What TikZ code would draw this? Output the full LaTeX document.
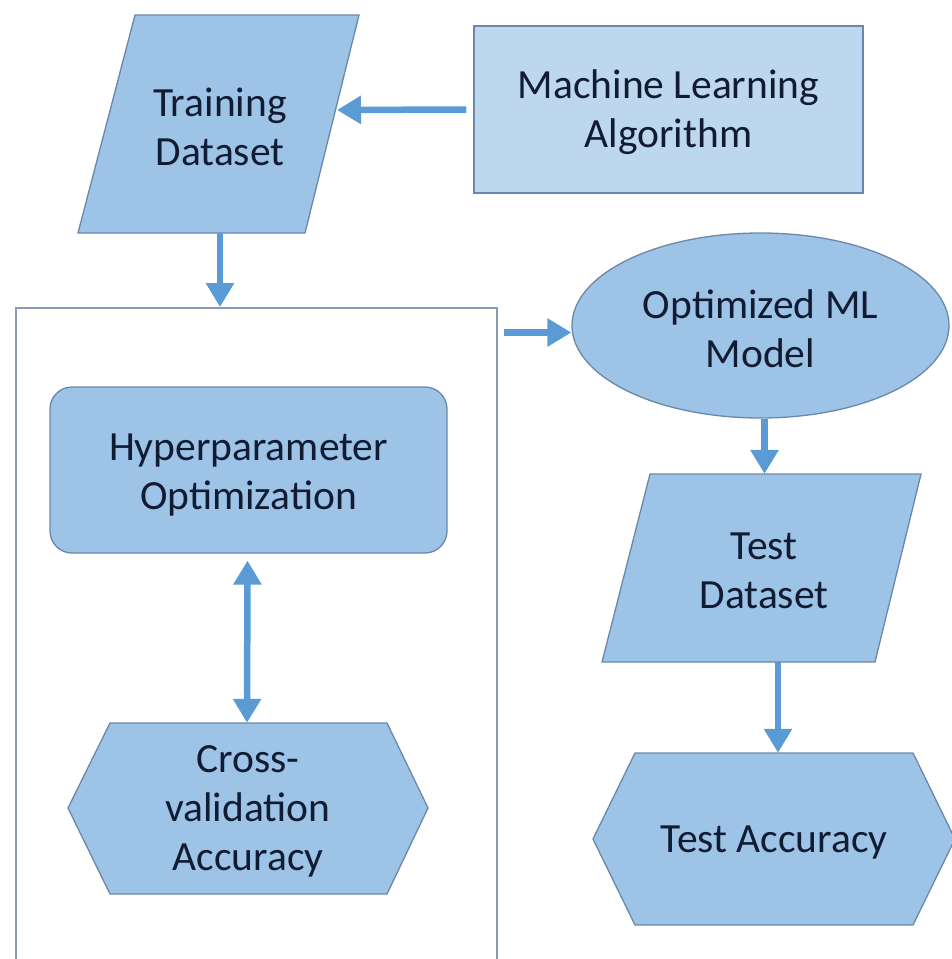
\documentclass[tikz,border=0pt]{standalone}
\usepackage{fontspec}
\setmainfont{Carlito}
\usetikzlibrary{arrows.meta,calc,shapes.geometric}
\definecolor{arrowblue}{HTML}{5B9BD5}
\definecolor{shapefill}{HTML}{9DC3E6}
\definecolor{lightfill}{HTML}{BDD7EE}
\definecolor{edgeblue}{HTML}{6A88AA}
\definecolor{framegrey}{HTML}{8A9CB3}
\definecolor{textnavy}{HTML}{111C33}
\tikzset{
  shp/.style={fill=shapefill, draw=edgeblue, line width=1.3pt},
  box/.style={inner sep=0pt},
  lbl/.style={text=textnavy, font=\fontsize{41.5}{49}\selectfont, align=center, inner sep=0pt},
  conn/.style={draw=arrowblue, line width=6.5pt, -{Triangle[length=24pt,width=27pt]}},
  biconn/.style={draw=arrowblue, line width=6.5pt, {Triangle[length=24pt,width=27pt]}-{Triangle[length=24pt,width=27pt]}},
}
\begin{document}
\begin{tikzpicture}[x=1pt,y=-1pt]
\useasboundingbox (0,0) rectangle (951,959);
% outer frame
\node[box, draw=framegrey, line width=2pt, minimum width=481pt, minimum height=667pt] (fr) at (256.5,641.5) {};
% drawn outlines
\path[shp] (135,15) -- (359,15) -- (305,233) -- (78,233) -- cycle;
\path[shp] (650,474) -- (921,474) -- (875,662) -- (602,662) -- cycle;
\path[shp] (68,808) -- (110,723) -- (387,723) -- (428,808) -- (387,894) -- (110,894) -- cycle;
\path[shp] (593,839) -- (635,753) -- (913,753) -- (955,839) -- (913,925) -- (635,925) -- cycle;
% shape nodes
\node[box, minimum width=224pt, minimum height=218pt] (td) at (219,124) {};
\node[box, fill=lightfill, draw=edgeblue, line width=1.3pt, minimum width=389pt, minimum height=167pt] (ml) at (668.5,109.5) {};
\node[box, shp, ellipse, minimum width=377pt, minimum height=185pt] (om) at (760.5,325.5) {};
\node[box, shp, rounded corners=22pt, minimum width=397pt, minimum height=166pt] (hp) at (248.5,470) {};
\node[box, minimum width=360pt, minimum height=171pt] (cv) at (248,808.5) {};
\node[box, minimum width=272pt, minimum height=188pt] (tds) at (762,568) {};
\node[box, minimum width=362pt, minimum height=172pt] (ta) at (774,839) {};
% labels
\node[lbl] (tdL) at ($(td.center)+(1,3)$) {Training\\Dataset};
\node[lbl] (mlL) at ($(ml.center)+(0,3)$) {Machine Learning\\Algorithm};
\node[lbl] (omL) at ($(om.center)+(0,3)$) {Optimized ML\\Model};
\node[lbl] (hpL) at ($(hp.center)+(0,5)$) {Hyperparameter\\Optimization};
\node[lbl] (cvL) at ($(cv.center)+(0,3)$) {Cross-\\validation\\Accuracy};
\node[lbl] (tdsL) at ($(tds.center)+(2,3)$) {Test\\Dataset};
\node[lbl] (taL) at ($(ta.center)+(0,4)$) {Test Accuracy};
\coordinate (tdR) at (337,110);
% connectors
\draw[conn] ($(ml.west)+(-7,0)$) -- (tdR);
\draw[conn] ($(td.south)+(1,0)$) -- ($(td.south |- fr.north)+(1,0)$);
\draw[conn] ($(fr.east |- om.west)+(6,7)$) -- ($(om.west)+(0,7)$);
\draw[conn] ($(om.south)+(4,0)$) -- ($(om.south |- tds.north)+(4,0)$);
\draw[conn] ($(tds.south)+(16,0)$) -- ($(ta.north)+(4,0)$);
\draw[biconn] ($(hp.south)+(-1,7)$) -- ($(cv.north)+(-1,0)$);
\end{tikzpicture}
\end{document}
